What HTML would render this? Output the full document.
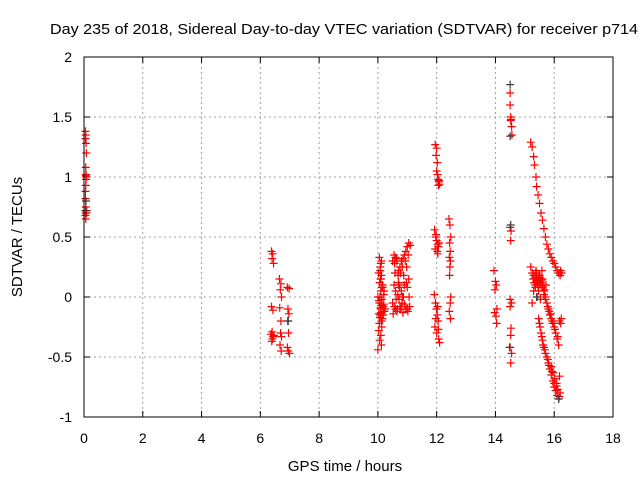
<!DOCTYPE html>
<html><head><meta charset="utf-8"><style>
body{margin:0;background:#fff;}
svg{display:block;font-family:"Liberation Sans",sans-serif;}
</style></head><body>
<svg id="chart" width="640" height="480" viewBox="0 0 640 480">
<rect width="640" height="480" fill="#fff"/>
<text x="50" y="34" font-size="14.5" textLength="588" lengthAdjust="spacingAndGlyphs" fill="#000">Day 235 of 2018, Sidereal Day-to-day VTEC variation (SDTVAR) for receiver p714</text>
<g id="grid"></g>
<g id="ticks"></g>
<g id="points"></g>
<rect x="84" y="57" width="529" height="360" fill="none" stroke="#000" stroke-width="1"/>
<text x="345" y="471" font-size="15" text-anchor="middle">GPS time / hours</text>
<text transform="translate(22,237) rotate(-90)" font-size="15" text-anchor="middle">SDTVAR / TECUs</text>
</svg>
<script>
const xTicks=[0,2,4,6,8,10,12,14,16,18];
const yTicks=[-1,-0.5,0,0.5,1,1.5,2];
const yTickLabels=["-1","-0.5","0","0.5","1","1.5","2"];
const redX=[
0.05,0.06,0.05,0.07,0.08,0.06,0.07,0.08,0.07,0.06,0.05,0.05,0.06,0.07,0.06,0.05,0.06,0.08,0.09,0.06,
6.38,6.42,6.40,6.45,6.38,6.43,6.40,6.36,6.44,6.41,6.39,6.46,
6.65,6.7,6.68,6.72,6.66,6.7,6.69,6.72,6.67,6.71,
6.92,6.98,6.94,6.97,6.93,6.96,6.95,6.99,6.92,
10.05,10.1,10.08,10.12,10.06,10.15,10.1,10.2,10.13,10.05,10.18,10.1,10.22,10.08,10.15,10.12,10.05,10.1,10.2,10.07,10.14,10.03,10.1,10.06,10.12,10.0,10.18,10.1,10.25,10.08,
10.5,10.55,10.6,10.65,10.7,10.75,10.8,10.85,10.9,10.95,11.0,11.05,11.1,10.55,10.6,10.7,10.8,10.9,11.0,11.05,10.5,10.6,10.65,10.75,10.85,10.95,11.02,11.08,10.58,10.72,10.88,10.98,10.52,10.68,10.82,11.06,
11.95,12.0,11.98,12.02,12.0,12.03,12.05,12.07,12.06,12.1,12.08,
11.93,11.97,12.0,12.03,12.06,11.95,12.02,12.08,11.98,12.04,
11.92,11.96,11.99,12.02,12.05,11.94,12.0,12.07,11.97,12.03,12.06,12.1,
12.42,12.45,12.48,12.44,12.46,12.43,12.47,12.45,12.44,12.48,12.46,12.43,12.47,
13.95,14.0,14.03,13.98,14.05,13.97,14.02,14.04,
14.5,14.5,14.52,14.52,14.55,14.53,14.56,14.5,14.53,14.52,14.5,14.55,14.5,14.53,14.52,14.5,14.55,14.52,
15.2,15.25,15.3,15.33,15.38,15.4,15.45,15.5,15.55,15.6,15.65,15.7,15.75,15.8,15.85,15.9,15.95,16.0,16.05,16.1,16.15,16.2,
15.2,15.25,15.3,15.35,15.4,15.45,15.5,15.55,15.6,15.65,15.7,15.75,15.8,15.85,15.9,15.95,16.0,16.05,16.1,16.15,15.3,15.4,15.5,15.6,15.35,15.45,15.55,15.65,15.25,15.42,15.58,15.72,
15.5,15.55,15.6,15.65,15.7,15.75,15.8,15.85,15.9,15.95,16.0,16.05,16.1,16.15,16.2,15.62,15.78,15.92,16.08,16.18,
16.22,16.25,16.2,16.24,16.18,16.22,
10.02,10.09,10.16,10.04,10.11,10.19,10.07,10.13,10.0,10.21,10.09,10.16,10.03,10.12,
10.57,10.63,10.69,10.77,10.83,10.93,11.03,10.62,10.74,10.87,10.97,10.56,10.66,10.79,10.91,11.0,10.71,10.84,
15.28,15.32,15.37,15.43,15.48,15.52,15.57,15.62,15.38,15.47,15.53,15.67,15.7,15.78,15.83,15.88,15.93,15.98,16.03,16.12,
15.9,15.96,16.02,16.08,16.12,16.17,16.0,15.82,15.68,15.58,15.52,15.47,15.41,15.36];
const redY=[
1.38,1.35,1.32,1.28,1.2,1.08,1.02,1.0,0.98,0.93,0.88,0.82,0.75,0.72,0.70,0.68,0.65,0.70,0.72,1.01,
0.38,0.36,0.32,0.28,-0.08,-0.11,-0.29,-0.31,-0.33,-0.35,-0.37,-0.32,
0.15,0.11,0.06,0.0,-0.09,-0.2,-0.3,-0.33,-0.40,-0.45,
0.08,0.07,-0.1,-0.14,-0.2,-0.3,-0.45,-0.47,-0.42,
0.33,0.28,0.22,0.18,0.12,0.1,0.05,0.02,-0.02,-0.05,-0.08,-0.1,-0.12,-0.15,-0.18,-0.2,-0.22,-0.13,-0.06,0.0,0.08,-0.28,-0.32,-0.36,-0.4,-0.44,-0.15,0.15,-0.1,0.25,
0.3,0.35,0.33,0.3,0.22,0.25,0.3,0.32,0.35,0.38,0.42,0.45,0.43,0.1,0.05,0.12,0.05,0.1,0.08,0.15,-0.05,-0.1,-0.12,-0.08,-0.13,-0.1,-0.12,-0.08,0.2,-0.02,0.18,0.25,-0.14,0.02,-0.05,0.0,
1.27,1.24,1.18,1.12,1.05,1.02,0.98,0.96,0.93,0.94,0.97,
0.56,0.5,0.47,0.44,0.42,0.4,0.38,0.45,0.52,0.36,
0.02,-0.05,-0.1,-0.15,-0.2,-0.25,-0.3,-0.35,-0.18,-0.08,-0.27,-0.38,
0.65,0.6,0.5,0.45,0.38,0.33,0.3,0.25,0.18,0.0,-0.05,-0.12,-0.18,
0.22,0.13,0.1,0.06,-0.1,-0.13,-0.16,-0.22,
1.7,1.6,1.5,1.47,1.42,1.48,1.35,0.58,0.55,0.47,-0.02,-0.05,-0.08,-0.26,-0.32,-0.42,-0.47,-0.55,
1.29,1.25,1.17,1.1,1.0,0.92,0.85,0.78,0.7,0.64,0.57,0.5,0.44,0.4,0.36,0.33,0.3,0.28,0.25,0.22,0.2,0.2,
0.25,0.2,0.18,0.16,0.14,0.15,0.12,0.1,0.08,0.05,0.0,-0.05,-0.1,-0.15,-0.18,-0.22,-0.25,-0.3,-0.35,-0.4,0.05,0.2,0.18,0.15,0.1,0.08,0.12,0.02,-0.05,0.0,0.22,0.1,
-0.22,-0.3,-0.36,-0.42,-0.47,-0.5,-0.55,-0.6,-0.65,-0.7,-0.75,-0.78,-0.82,-0.85,-0.8,-0.4,-0.52,-0.62,-0.72,-0.66,
0.22,0.2,0.18,-0.18,-0.2,-0.22,
0.2,0.15,0.08,-0.03,-0.07,-0.12,-0.17,-0.25,0.0,0.05,-0.09,0.1,-0.14,0.3,
0.28,0.32,0.18,0.2,0.25,0.3,0.35,-0.02,0.08,0.0,0.12,-0.08,-0.1,-0.1,-0.06,-0.1,0.1,0.0,
0.15,0.12,0.2,0.13,0.18,0.16,0.14,0.1,0.22,0.05,-0.02,0.06,-0.02,-0.08,-0.12,-0.14,-0.2,-0.22,-0.27,-0.33,
-0.58,-0.63,-0.68,-0.74,-0.77,-0.83,-0.72,-0.57,-0.44,-0.33,-0.25,-0.18,0.12,0.08];
const grayX=[0.05,0.07,14.5,14.5,14.52,14.48,15.4,6.95,16.15];
const grayY=[0.72,0.8,1.77,1.34,0.6,-0.42,0.0,-0.2,-0.85];

const NS="http://www.w3.org/2000/svg";
const L=84,R=613,T=57,B=417;
function sx(h){return L+(h-0)/(18-0)*(R-L);}
function sy(v){return B-(v-(-1))/(2-(-1))*(B-T);}
function mk(tag,attrs,parent){const e=document.createElementNS(NS,tag);for(const k in attrs)e.setAttribute(k,attrs[k]);parent.appendChild(e);return e;}
const grid=document.getElementById('grid'),ticks=document.getElementById('ticks'),pts=document.getElementById('points');
xTicks.forEach((t,i)=>{
  const x=sx(t);
  if(i>0&&i<xTicks.length-1){
    const g=mk('line',{x1:x,y1:T,x2:x,y2:B,stroke:'#a0a0a0','stroke-dasharray':'2,3'},grid);
    
    
  }
  const tk=mk('path',{d:`M${x},${B}v-6M${x},${T}v6`,stroke:'#000'},ticks);
  
  
  const lb=mk('text',{x:x,y:B+26,'font-size':14,'text-anchor':'middle'},ticks);
  lb.textContent=String(t);
  
  
});
yTicks.forEach((t,i)=>{
  const y=sy(t);
  if(i>0&&i<yTicks.length-1){
    const g=mk('line',{x1:L,y1:y,x2:R,y2:y,stroke:'#a0a0a0','stroke-dasharray':'2,3'},grid);
    
    
  }
  const tk=mk('path',{d:`M${L},${y}h6M${R},${y}h-6`,stroke:'#000'},ticks);
  
  
  const lb=mk('text',{x:L-12,y:y+5,'font-size':14,'text-anchor':'end'},ticks);
  lb.textContent=yTickLabels[i];
  
  
});
function plus(h,v,color,name){
  const x=sx(h),y=sy(v);
  const p=mk('path',{d:`M${x-4},${y}h8M${x},${y-4}v8`,stroke:color,'stroke-width':1.2},pts);
  
  
}
redX.forEach((h,i)=>plus(h,redY[i],'#ff0000','sdtvar-point'));
grayX.forEach((h,i)=>plus(h,grayY[i],'#404040','sdtvar-point-dark'));
</script>
</body></html>
